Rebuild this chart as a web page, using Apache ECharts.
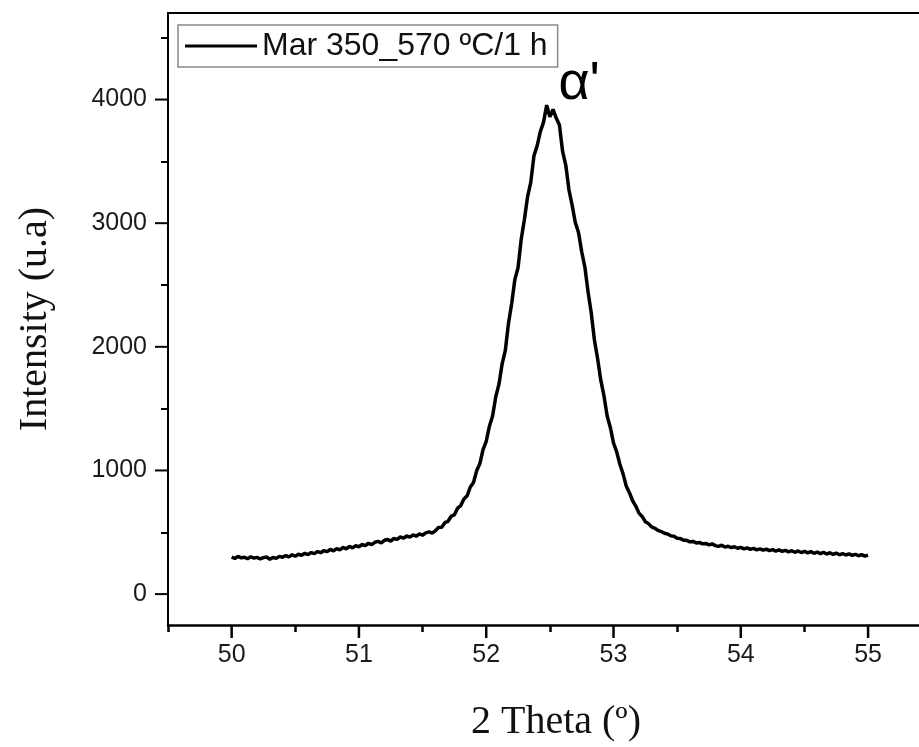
<!DOCTYPE html>
<html>
<head>
<meta charset="utf-8">
<script src="https://cdn.jsdelivr.net/npm/echarts@6/dist/echarts.min.js"></script>
<style>
html,body{margin:0;padding:0;background:#fff;}
#chart{width:919px;height:747px;}
</style>
</head>
<body>
<div id="chart"></div>
<script>
// 2 Theta start and step (degrees)
const thetaStart = 50.0;
const thetaStep = 0.025;
// Intensity values (u.a)
const intensity = [
300,288,305,293,298,286,302,291,297,284,
295,300,282,296,289,305,298,312,301,318,
306,322,314,330,319,336,327,344,335,352,
343,361,350,368,358,377,366,386,374,392,
383,401,392,411,400,419,427,413,435,441,
428,450,443,462,452,470,461,478,468,487,
476,495,503,493,512,538,541,578,589,630,
641,695,716,770,795,866,902,998,1055,1168,
1236,1358,1440,1596,1698,1862,1970,2190,2350,2545,
2640,2870,3030,3215,3330,3545,3625,3740,3815,3955,
3860,3920,3850,3795,3580,3470,3270,3145,3005,2925,
2770,2645,2445,2275,2055,1905,1730,1605,1440,1348,
1222,1150,1050,972,874,820,755,712,655,628,
586,570,543,532,515,506,492,486,471,467,
452,449,436,435,423,426,414,418,406,410,
398,406,392,386,395,380,387,376,383,371,
378,366,374,362,370,358,366,355,363,351,
360,348,357,345,354,342,351,338,349,336,
346,333,343,330,340,327,338,324,335,321,
332,318,328,316,325,313,322,310,319,307,
315
];
const seriesName = 'Mar 350_570 ºC/1 h';
const xLabels = [50, 51, 52, 53, 54, 55];
const yLabels = [0, 1000, 2000, 3000, 4000];
const xMinorTicks = [49.5, 50.5, 51.5, 52.5, 53.5, 54.5];
const yMinorTicks = [500, 1500, 2500, 3500, 4500];
const peakLabel = "α'";
const peakLabelAt = [52.73, 4125];

// axis ranges
const xMin = 49.5, xMax = 55.4;
const yMin = -250, yMax = 4700;

const points = intensity.map((v, i) => [+(thetaStart + i * thetaStep).toFixed(3), v]);

const chart = echarts.init(document.getElementById('chart'), null, {renderer: 'canvas'});
const sans = 'Liberation Sans, Arial, sans-serif';
const serif = 'Liberation Serif, Times New Roman, serif';
const plain = v => String(v);

function minorAxis(min, max, pos, values, w) {
  return {
    type: 'value', min: min, max: max, position: pos, offset: 0,
    axisLine: {show: false, onZero: false},
    axisTick: {show: true, customValues: values, length: 7, lineStyle: {color: '#000', width: w}},
    axisLabel: {show: false},
    splitLine: {show: false}
  };
}

// major tick marks drawn through the axis scale (api.coord)
function majorTickSeries(values, dir) {
  return {
    type: 'custom', silent: true, clip: false, z: 5,
    xAxisIndex: 0, yAxisIndex: 0,
    data: values.map(v => dir === 'x' ? [v, yMin] : [xMin, v]),
    renderItem: function (params, api) {
      const p = api.coord([api.value(0), api.value(1)]);
      if (dir === 'x') {
        return {type: 'line', shape: {x1: p[0], y1: p[1], x2: p[0], y2: p[1] + 13},
          style: {stroke: '#000', lineWidth: 2.5}};
      }
      return {type: 'line', shape: {x1: p[0] - 13, y1: p[1], x2: p[0], y2: p[1]},
        style: {stroke: '#000', lineWidth: 2}};
    }
  };
}

chart.setOption({
  animation: false,
  backgroundColor: '#fff',
  grid: {left: 168, top: 13, right: 0, bottom: 120, show: false},
  legend: {
    show: true,
    left: 178, top: 25,
    padding: [5, 10, 5, 7],
    itemWidth: 72, itemHeight: 20,
    borderColor: '#888', borderWidth: 1.5,
    textStyle: {fontFamily: sans, fontSize: 32, color: '#111'},
    data: [{name: seriesName, icon: 'path://M0,0 L72,0 L72,3 L0,3 Z', itemStyle: {color: '#000'}}]
  },
  xAxis: [{
    type: 'value', min: xMin, max: xMax, position: 'bottom',
    name: '2 Theta (º)', nameLocation: 'middle', nameGap: 77,
    nameTextStyle: {fontFamily: serif, fontSize: 40, color: '#111', padding: [0, 0, 0, 25]},
    axisLine: {show: true, onZero: false, lineStyle: {color: '#000', width: 2.5}},
    axisTick: {show: false},
    axisLabel: {show: true, customValues: xLabels, formatter: plain, margin: 18,
      fontFamily: sans, fontSize: 25, color: '#1a1a1a'},
    splitLine: {show: false}
  },
  minorAxis(xMin, xMax, 'bottom', xMinorTicks, 2.5),
  {
    type: 'value', min: xMin, max: xMax, position: 'top',
    axisLine: {show: true, onZero: false, lineStyle: {color: '#000', width: 2}},
    axisTick: {show: false}, axisLabel: {show: false}, splitLine: {show: false}
  }],
  yAxis: [{
    type: 'value', min: yMin, max: yMax, position: 'left',
    name: 'Intensity (u.a)', nameLocation: 'middle', nameGap: 113,
    nameTextStyle: {fontFamily: serif, fontSize: 40, color: '#111'},
    axisLine: {show: true, onZero: false, lineStyle: {color: '#000', width: 2}},
    axisTick: {show: false},
    axisLabel: {show: true, customValues: yLabels, formatter: plain, margin: 21,
      fontFamily: sans, fontSize: 25, color: '#1a1a1a'},
    splitLine: {show: false}
  },
  minorAxis(yMin, yMax, 'left', yMinorTicks, 2)
  ],
  series: [{
    name: seriesName,
    type: 'line',
    xAxisIndex: 0, yAxisIndex: 0,
    data: points,
    showSymbol: false, symbol: 'none',
    lineStyle: {color: '#000', width: 3.5},
    itemStyle: {color: '#000'},
    markPoint: {
      symbol: 'circle', symbolSize: 1,
      itemStyle: {color: 'rgba(0,0,0,0)'},
      label: {show: true, position: 'inside', formatter: peakLabel,
        fontFamily: sans, fontSize: 54, color: '#000'},
      data: [{coord: peakLabelAt}]
    }
  },
  majorTickSeries(xLabels, 'x'),
  majorTickSeries(yLabels, 'y')
  ]
});
</script>
</body>
</html>
